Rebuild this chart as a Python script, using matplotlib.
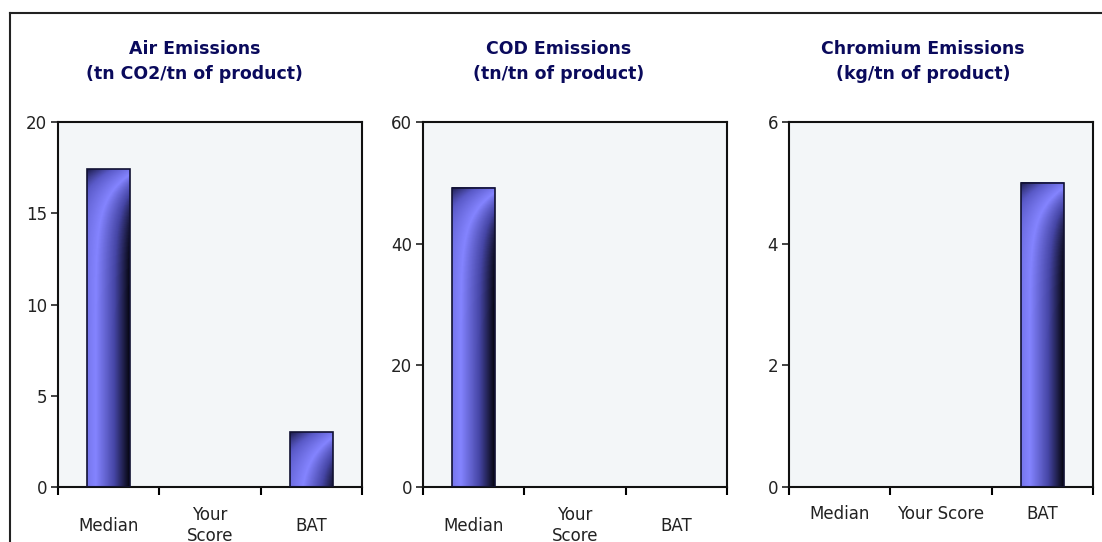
import numpy as np
import matplotlib
matplotlib.use("Agg")
import matplotlib.pyplot as plt
from matplotlib.colors import LinearSegmentedColormap
from matplotlib.patches import Rectangle
from matplotlib.lines import Line2D

plt.rcParams['font.family'] = ['DejaVu Sans']

categories = ["Median", "Your Score", "BAT"]
titles = ["Air Emissions\n(tn CO2/tn of product)",
          "COD Emissions\n(tn/tn of product)",
          "Chromium Emissions\n(kg/tn of product)"]
air_values = [17.4, 0, 3.0]
cod_values = [49.2, 0, 0]
chromium_values = [0, 0, 5.0]
y_limits = [20, 60, 6]
y_ticks = [[0, 5, 10, 15, 20], [0, 20, 40, 60], [0, 2, 4, 6]]
tick_labels = [["Median", "Your\nScore", "BAT"],
               ["Median", "Your\nScore", "BAT"],
               ["Median", "Your Score", "BAT"]]

# shaded fill: dark top-left corner, light left side, black right side
bar_cmap = LinearSegmentedColormap.from_list(
    "bar", [(0.0, "#1c1c4c"), (0.3, "#5a5ac8"), (0.6, "#8484ff"),
            (0.82, "#4646a6"), (1.0, "#05050f")])


def bar_shade(w_px, h_px):
    nx, ny = 64, max(int(h_px), 2)
    xs = np.linspace(0, 1, nx)
    ys = np.linspace(0, h_px, ny) / w_px
    gx, gy = np.meshgrid(xs, ys)
    return (gx + 1 - np.exp(-1.8 * gy)) / 2


fig = plt.figure(figsize=(11.02, 5.42), dpi=100)
fig.patch.set_facecolor("white")

# outer frame (only left and top edges visible)
fig.add_artist(Line2D([10 / 1102, 10 / 1102], [0, 1 - 13 / 542], color="#222222", lw=1.5))
fig.add_artist(Line2D([10 / 1102, 1], [1 - 13 / 542, 1 - 13 / 542], color="#222222", lw=1.5))

lefts = [58, 423, 789]
label_pads = [28, 28, 19.5]
title_x = [0.45, 0.445, 0.44]
all_values = [air_values, cod_values, chromium_values]
bar_w = 0.42

for i in range(3):
    ax = fig.add_axes([lefts[i] / 1102, 1 - 487 / 542, 304 / 1102, 365 / 542])
    ax.set_facecolor("#f3f6f8")
    ax.set_xlim(-0.5, 2.5)
    ax.set_ylim(0, y_limits[i])
    for x, v in enumerate(all_values[i]):
        if v <= 0:
            continue
        x0 = x - bar_w / 2
        p0 = ax.transData.transform((x0, 0))
        p1 = ax.transData.transform((x0 + bar_w, v))
        ax.imshow(bar_shade(p1[0] - p0[0], p1[1] - p0[1]), cmap=bar_cmap,
                  aspect="auto", vmin=0, vmax=1,
                  extent=[x0, x0 + bar_w, 0, v], zorder=2)
        ax.add_patch(Rectangle((x0, 0), bar_w, v, fill=False,
                               edgecolor="#111133", lw=1.2, zorder=3))
    ax.set_xlim(-0.5, 2.5)
    ax.set_ylim(0, y_limits[i])

    ax.set_yticks(y_ticks[i])
    ax.tick_params(axis="y", direction="out", length=5, width=1.2,
                   labelsize=12, pad=3, colors="#222222")
    ax.set_xticks([-0.5, 0.5, 1.5, 2.5])
    ax.set_xticklabels([])
    ax.tick_params(axis="x", which="major", direction="out", length=6, width=1.5)
    ax.set_xticks([0, 1, 2], minor=True)
    ax.set_xticklabels(tick_labels[i], minor=True)
    ax.tick_params(axis="x", which="minor", length=0, labelsize=12,
                   pad=label_pads[i], colors="#222222")
    for lab in ax.get_xticklabels(minor=True):
        lab.set_verticalalignment("center")
    for s in ax.spines.values():
        s.set_color("#111111")
        s.set_linewidth(1.5)
    ax.text(title_x[i], (487 - 61.5) / 365, titles[i], transform=ax.transAxes,
            ha="center", va="center", multialignment="center",
            fontsize=12.5, fontweight="bold", color="#0a0a5c", linespacing=1.45)

fig.savefig("out.png", dpi=100)
